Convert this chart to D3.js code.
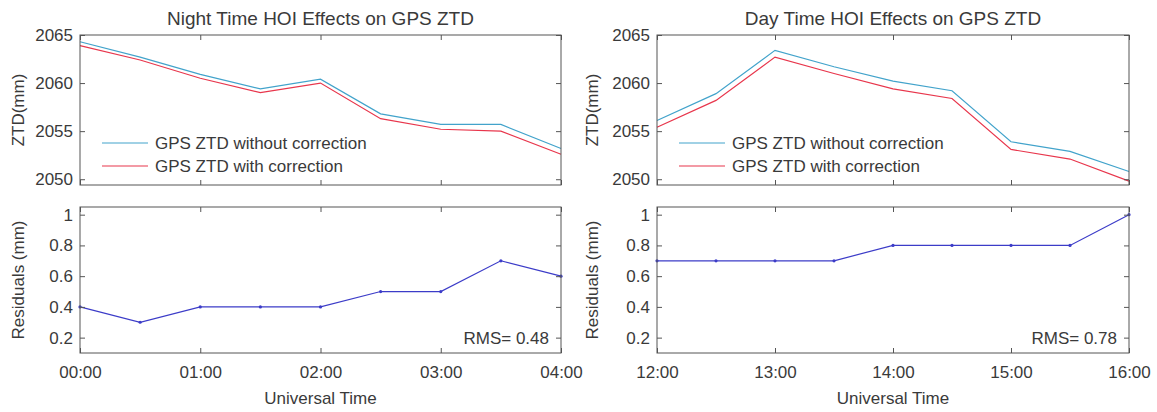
<!DOCTYPE html>
<html>
<head>
<meta charset="utf-8">
<script src="https://cdnjs.cloudflare.com/ajax/libs/d3/7.8.5/d3.min.js"></script>
<style>
  body { margin: 0; background: #fff; }
  svg text { font-family: "Liberation Sans", Arial, Helvetica, sans-serif; fill: #3a3a3a; }
  .tick line { stroke: #555; }
</style>
</head>
<body>
<svg id="chart" width="1157" height="412"></svg>
<script>
// half-hour epochs, hours since start of window
const epochs = [0, 0.5, 1, 1.5, 2, 2.5, 3, 3.5, 4];
const hourTicks = [0, 1, 2, 3, 4];
const nightTickLabels = ["00:00", "01:00", "02:00", "03:00", "04:00"];
const dayTickLabels = ["12:00", "13:00", "14:00", "15:00", "16:00"];
const ztdTicks = [2050, 2055, 2060, 2065];
const residTicks = [0.2, 0.4, 0.6, 0.8, 1];

const nightZtdNoCorr = [2064.3, 2062.7, 2060.9, 2059.4, 2060.4, 2056.8, 2055.7, 2055.7, 2053.2];
const nightZtdCorr = [2063.9, 2062.4, 2060.5, 2059.0, 2060.0, 2056.3, 2055.2, 2055.0, 2052.6];
const nightResid = [0.4, 0.3, 0.4, 0.4, 0.4, 0.5, 0.5, 0.7, 0.6];
const nightRms = "0.48";

const dayZtdNoCorr = [2056.1, 2058.9, 2063.4, 2061.7, 2060.2, 2059.2, 2053.9, 2052.9, 2050.8];
const dayZtdCorr = [2055.4, 2058.2, 2062.7, 2061.0, 2059.4, 2058.4, 2053.1, 2052.1, 2049.8];
const dayResid = [0.7, 0.7, 0.7, 0.7, 0.8, 0.8, 0.8, 0.8, 1.0];
const dayRms = "0.78";

const seriesNames = ["GPS ZTD without correction", "GPS ZTD with correction"];
const colors = { noCorr: "#42a3cb", corr: "#e8364c", resid: "#3c3cc8", box: "#555" };
const fs = 17;

const svg = d3.select("#chart");

const panels = [
  { title: "Night Time HOI Effects on GPS ZTD", x0: 80, x1: 561, labels: nightTickLabels,
    noCorr: nightZtdNoCorr, corr: nightZtdCorr, resid: nightResid, rms: nightRms, ylabX: 18 },
  { title: "Day Time HOI Effects on GPS ZTD", x0: 657, x1: 1129, labels: dayTickLabels,
    noCorr: dayZtdNoCorr, corr: dayZtdCorr, resid: dayResid, rms: dayRms, ylabX: 592 }
];

const upperBox = { y0: 35, y1: 185 };
const lowerBox = { y0: 207, y1: 353 };

function drawBox(g, x, y) {
  const [xa, xb] = x.range();
  const [yb, ya] = y.range();
  g.append("rect")
    .attr("x", xa).attr("y", ya)
    .attr("width", xb - xa).attr("height", yb - ya)
    .attr("fill", "none").attr("stroke", colors.box).attr("stroke-width", 1);
}

function drawAxes(g, x, y, yTicks, xLabels, yFmt) {
  const [xa, xb] = x.range();
  const [yb, ya] = y.range();
  // bottom
  const bx = g.append("g").attr("transform", `translate(0,${yb})`)
    .call(d3.axisBottom(x).tickValues(hourTicks).tickSizeInner(-5).tickSizeOuter(0).tickPadding(13)
      .tickFormat((d, i) => xLabels ? xLabels[i] : ""));
  // top
  const tx = g.append("g").attr("transform", `translate(0,${ya})`)
    .call(d3.axisTop(x).tickValues(hourTicks).tickSizeInner(-5).tickSizeOuter(0).tickFormat(""));
  // left
  const ly = g.append("g").attr("transform", `translate(${xa},0)`)
    .call(d3.axisLeft(y).tickValues(yTicks).tickSizeInner(-5).tickSizeOuter(0).tickPadding(7).tickFormat(yFmt));
  // right
  const ry = g.append("g").attr("transform", `translate(${xb},0)`)
    .call(d3.axisRight(y).tickValues(yTicks).tickSizeInner(-5).tickSizeOuter(0).tickFormat(""));
  [bx, tx, ly, ry].forEach(a => {
    a.select(".domain").remove();
    a.selectAll("text").attr("font-size", fs).style("fill", "#3a3a3a");
  });
}

panels.forEach(p => {
  const g = svg.append("g");
  const x = d3.scaleLinear().domain([0, 4]).range([p.x0, p.x1]);
  const yZ = d3.scaleLinear().domain([2049.4, 2065]).range([upperBox.y1, upperBox.y0]);
  const yR = d3.scaleLinear().domain([0.1, 1.05]).range([lowerBox.y1, lowerBox.y0]);

  // --- upper: ZTD ---
  const lineZ = d3.line().x((d, i) => x(epochs[i])).y(d => yZ(d));
  g.append("path").datum(p.noCorr).attr("d", lineZ)
    .attr("fill", "none").attr("stroke", colors.noCorr).attr("stroke-width", 1.2);
  g.append("path").datum(p.corr).attr("d", lineZ)
    .attr("fill", "none").attr("stroke", colors.corr).attr("stroke-width", 1.2);

  drawAxes(g, x, yZ, ztdTicks, null, d3.format("d"));
  drawBox(g, x, yZ);

  // legend
  const leg = g.append("g").attr("transform", `translate(${p.x0 + 22},0)`);
  [[colors.noCorr, 143], [colors.corr, 166]].forEach(([c, ly], i) => {
    leg.append("line").attr("x1", 0).attr("x2", 46).attr("y1", ly).attr("y2", ly)
      .attr("stroke", c).attr("stroke-width", 1.2);
    leg.append("text").attr("x", 53).attr("y", ly).attr("dy", "0.35em")
      .attr("font-size", fs).text(seriesNames[i]);
  });

  g.append("text").attr("x", (p.x0 + p.x1) / 2).attr("y", 18).attr("dy", "0.35em")
    .attr("text-anchor", "middle").attr("font-size", 19).text(p.title);

  g.append("text").attr("transform", `translate(${p.ylabX},${(upperBox.y0 + upperBox.y1) / 2}) rotate(-90)`)
    .attr("dy", "0.35em").attr("text-anchor", "middle").attr("font-size", fs).text("ZTD(mm)");

  // --- lower: residuals ---
  const lineR = d3.line().x((d, i) => x(epochs[i])).y(d => yR(d));
  g.append("path").datum(p.resid).attr("d", lineR)
    .attr("fill", "none").attr("stroke", colors.resid).attr("stroke-width", 1.2);
  g.selectAll(null).data(p.resid).enter().append("circle")
    .attr("cx", (d, i) => x(epochs[i])).attr("cy", d => yR(d)).attr("r", 1.6)
    .attr("fill", colors.resid);

  drawAxes(g, x, yR, residTicks, p.labels, d => d === 1 ? "1" : d3.format(".1f")(d));
  drawBox(g, x, yR);

  g.append("text").attr("x", p.x1 - 12).attr("y", yR(0.2)).attr("dy", "0.35em")
    .attr("text-anchor", "end").attr("font-size", fs).text("RMS= " + p.rms);

  g.append("text").attr("transform", `translate(${p.ylabX},${(lowerBox.y0 + lowerBox.y1) / 2}) rotate(-90)`)
    .attr("dy", "0.35em").attr("text-anchor", "middle").attr("font-size", fs).text("Residuals (mm)");

  g.append("text").attr("x", (p.x0 + p.x1) / 2).attr("y", 398).attr("dy", "0.35em")
    .attr("text-anchor", "middle").attr("font-size", fs).text("Universal Time");
});
</script>
</body>
</html>
